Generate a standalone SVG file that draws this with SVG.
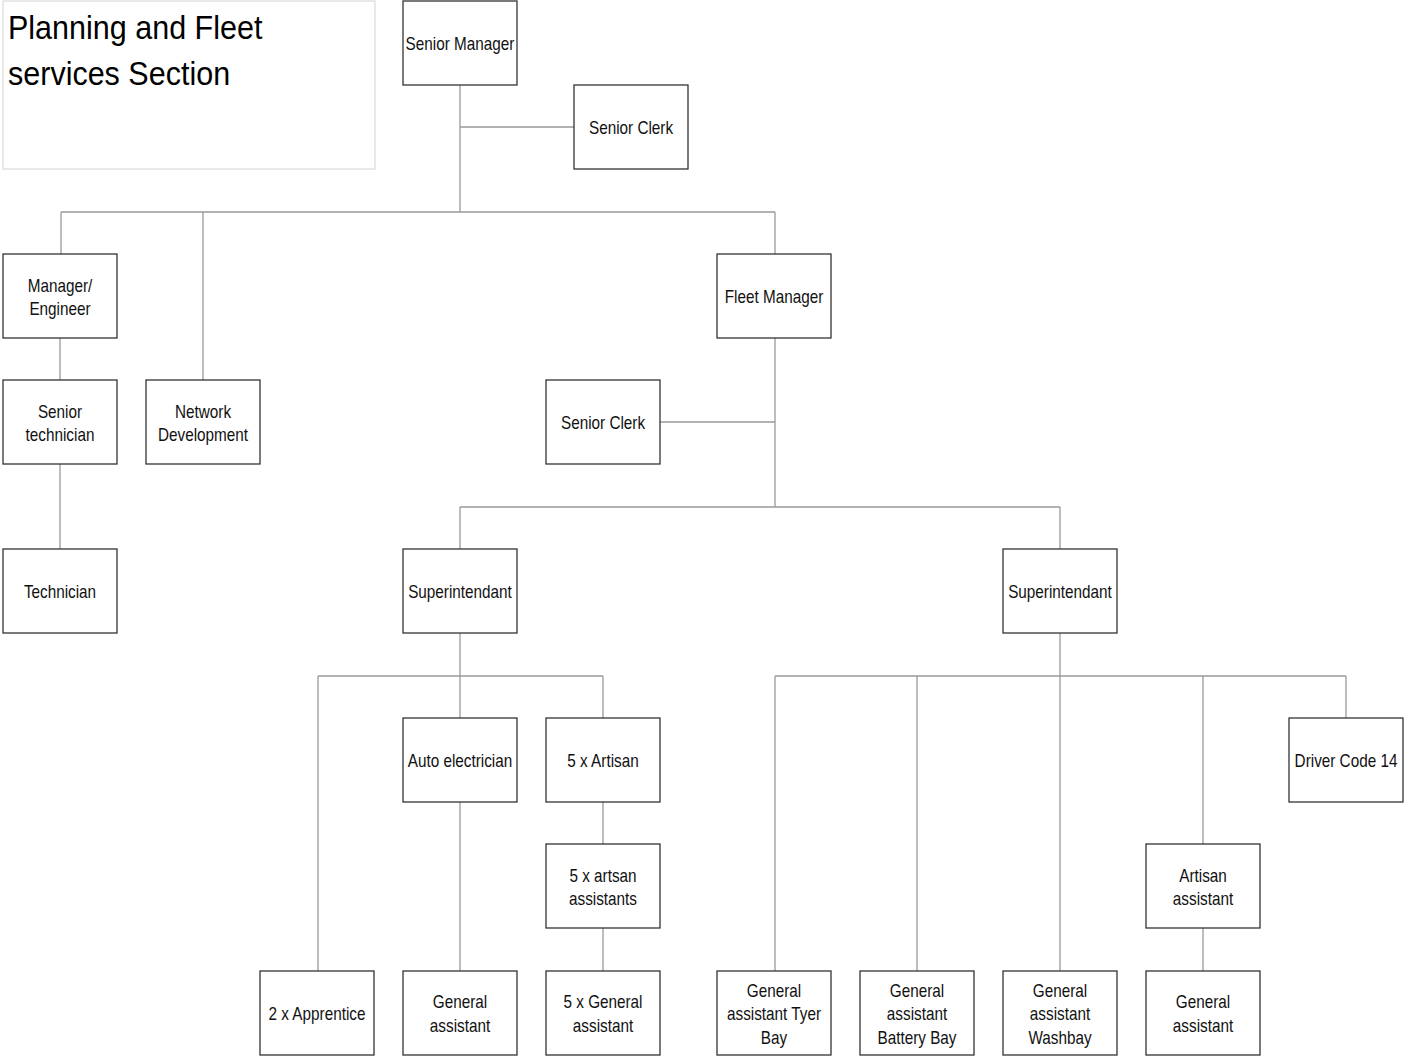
<svg xmlns="http://www.w3.org/2000/svg" width="1410" height="1058" viewBox="0 0 1410 1058">
  <style>
    .bg { fill: #ffffff; }
    .box { fill: #ffffff; stroke: #333333; stroke-width: 1.3; }
    .frame { fill: #ffffff; stroke: #dddddd; stroke-width: 1.3; }
    .link { fill: none; stroke: #9a9a9a; stroke-width: 1.3; }
    .t { font-family: "Liberation Sans", Arial, sans-serif; font-size: 18px; fill: #111111; text-anchor: middle; }
    .title { font-family: "Liberation Sans", Arial, sans-serif; font-size: 33px; fill: #000000; }
  </style>
  <rect class="bg" x="0" y="0" width="1410" height="1058"/>

  <!-- section title -->
  <g id="title">
    <rect class="frame" x="3" y="1" width="372" height="168"/>
    <text class="title" transform="translate(8,0) scale(0.925,1)"><tspan x="0" y="39">Planning and Fleet</tspan><tspan x="0" y="85">services Section</tspan></text>
  </g>

  <!-- reporting lines -->
  <g id="connectors">
    <path class="link" d="M460 85 V212 M460 127 H574 M61 212 H775 M61 212 V254 M203 212 V380 M775 212 V254"/>
    <path class="link" d="M60 338 V380 M60 464 V549"/>
    <path class="link" d="M775 338 V507 M660 422 H775 M460 507 H1060 M460 507 V549 M1060 507 V549"/>
    <path class="link" d="M460 633 V718 M318 676 H603 M318 676 V971 M603 676 V718 M460 802 V971 M603 802 V844 M603 928 V971"/>
    <path class="link" d="M1060 633 V971 M775 676 H1346 M775 676 V971 M917 676 V971 M1203 676 V844 M1346 676 V718 M1203 928 V971"/>
  </g>

  <g id="senior-manager">
    <rect class="box" x="403" y="1" width="114" height="84"/>
    <text class="t" transform="translate(460,0) scale(0.85,1)"><tspan x="0" y="50">Senior Manager</tspan></text>
  </g>
  <g id="senior-clerk-top">
    <rect class="box" x="574" y="85" width="114" height="84"/>
    <text class="t" transform="translate(631,0) scale(0.85,1)"><tspan x="0" y="134">Senior Clerk</tspan></text>
  </g>
  <g id="manager-engineer">
    <rect class="box" x="3" y="254" width="114" height="84"/>
    <text class="t" transform="translate(60,0) scale(0.85,1)"><tspan x="0" y="292">Manager/</tspan><tspan x="0" y="315">Engineer</tspan></text>
  </g>
  <g id="fleet-manager">
    <rect class="box" x="717" y="254" width="114" height="84"/>
    <text class="t" transform="translate(774,0) scale(0.85,1)"><tspan x="0" y="303">Fleet Manager</tspan></text>
  </g>
  <g id="senior-technician">
    <rect class="box" x="3" y="380" width="114" height="84"/>
    <text class="t" transform="translate(60,0) scale(0.85,1)"><tspan x="0" y="418">Senior</tspan><tspan x="0" y="441">technician</tspan></text>
  </g>
  <g id="network-development">
    <rect class="box" x="146" y="380" width="114" height="84"/>
    <text class="t" transform="translate(203,0) scale(0.85,1)"><tspan x="0" y="418">Network</tspan><tspan x="0" y="441">Development</tspan></text>
  </g>
  <g id="senior-clerk-fleet">
    <rect class="box" x="546" y="380" width="114" height="84"/>
    <text class="t" transform="translate(603,0) scale(0.85,1)"><tspan x="0" y="429">Senior Clerk</tspan></text>
  </g>
  <g id="technician">
    <rect class="box" x="3" y="549" width="114" height="84"/>
    <text class="t" transform="translate(60,0) scale(0.85,1)"><tspan x="0" y="598">Technician</tspan></text>
  </g>
  <g id="superintendant-1">
    <rect class="box" x="403" y="549" width="114" height="84"/>
    <text class="t" transform="translate(460,0) scale(0.85,1)"><tspan x="0" y="598">Superintendant</tspan></text>
  </g>
  <g id="superintendant-2">
    <rect class="box" x="1003" y="549" width="114" height="84"/>
    <text class="t" transform="translate(1060,0) scale(0.85,1)"><tspan x="0" y="598">Superintendant</tspan></text>
  </g>
  <g id="auto-electrician">
    <rect class="box" x="403" y="718" width="114" height="84"/>
    <text class="t" transform="translate(460,0) scale(0.85,1)"><tspan x="0" y="767">Auto electrician</tspan></text>
  </g>
  <g id="artisan">
    <rect class="box" x="546" y="718" width="114" height="84"/>
    <text class="t" transform="translate(603,0) scale(0.85,1)"><tspan x="0" y="767">5 x Artisan</tspan></text>
  </g>
  <g id="driver-code-14">
    <rect class="box" x="1289" y="718" width="114" height="84"/>
    <text class="t" transform="translate(1346,0) scale(0.85,1)"><tspan x="0" y="767">Driver Code 14</tspan></text>
  </g>
  <g id="artisan-assistants">
    <rect class="box" x="546" y="844" width="114" height="84"/>
    <text class="t" transform="translate(603,0) scale(0.85,1)"><tspan x="0" y="882">5 x artsan</tspan><tspan x="0" y="905">assistants</tspan></text>
  </g>
  <g id="artisan-assistant">
    <rect class="box" x="1146" y="844" width="114" height="84"/>
    <text class="t" transform="translate(1203,0) scale(0.85,1)"><tspan x="0" y="882">Artisan</tspan><tspan x="0" y="905">assistant</tspan></text>
  </g>
  <g id="apprentice">
    <rect class="box" x="260" y="971" width="114" height="84"/>
    <text class="t" transform="translate(317,0) scale(0.85,1)"><tspan x="0" y="1020">2 x Apprentice</tspan></text>
  </g>
  <g id="general-assistant-auto">
    <rect class="box" x="403" y="971" width="114" height="84"/>
    <text class="t" transform="translate(460,0) scale(0.85,1)"><tspan x="0" y="1008">General</tspan><tspan x="0" y="1032">assistant</tspan></text>
  </g>
  <g id="general-assistant-5x">
    <rect class="box" x="546" y="971" width="114" height="84"/>
    <text class="t" transform="translate(603,0) scale(0.85,1)"><tspan x="0" y="1008">5 x General</tspan><tspan x="0" y="1032">assistant</tspan></text>
  </g>
  <g id="general-assistant-tyer-bay">
    <rect class="box" x="717" y="971" width="114" height="84"/>
    <text class="t" transform="translate(774,0) scale(0.85,1)"><tspan x="0" y="997">General</tspan><tspan x="0" y="1020">assistant Tyer</tspan><tspan x="0" y="1044">Bay</tspan></text>
  </g>
  <g id="general-assistant-battery-bay">
    <rect class="box" x="860" y="971" width="114" height="84"/>
    <text class="t" transform="translate(917,0) scale(0.85,1)"><tspan x="0" y="997">General</tspan><tspan x="0" y="1020">assistant</tspan><tspan x="0" y="1044">Battery Bay</tspan></text>
  </g>
  <g id="general-assistant-washbay">
    <rect class="box" x="1003" y="971" width="114" height="84"/>
    <text class="t" transform="translate(1060,0) scale(0.85,1)"><tspan x="0" y="997">General</tspan><tspan x="0" y="1020">assistant</tspan><tspan x="0" y="1044">Washbay</tspan></text>
  </g>
  <g id="general-assistant-artisan">
    <rect class="box" x="1146" y="971" width="114" height="84"/>
    <text class="t" transform="translate(1203,0) scale(0.85,1)"><tspan x="0" y="1008">General</tspan><tspan x="0" y="1032">assistant</tspan></text>
  </g>
</svg>
